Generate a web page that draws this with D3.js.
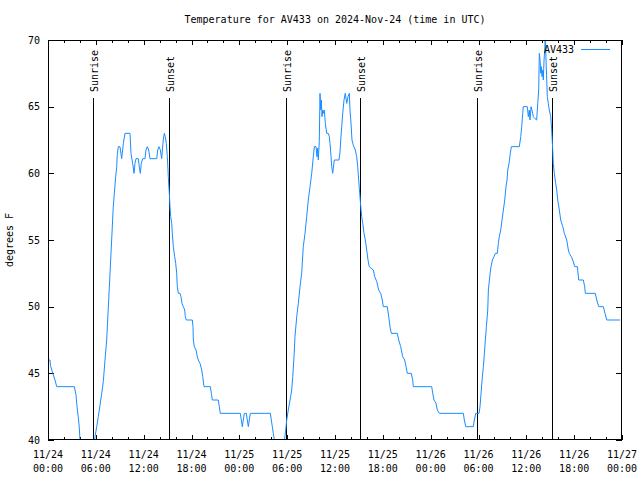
<!DOCTYPE html>
<html><head><meta charset="utf-8">
<script src="https://cdn.jsdelivr.net/npm/d3@7"></script>
<style>
body{margin:0;background:#fff}
svg{display:block}
text{font-family:"DejaVu Sans Mono",monospace;font-size:10px;fill:#000}
</style>
</head><body>
<svg id="c" width="640" height="480"></svg>
<script>
const chartTitle = "Temperature for AV433 on 2024-Nov-24 (time in UTC)";
const yLabel = "degrees F";
const seriesName = "AV433";

// [hours since 2024-11-24 00:00 UTC, temperature °F]
const readingsNov24 = [[0,46],[0.25,46],[0.31,45.6],[0.59,45],[0.88,44.5],[1.09,44],[3.30,44],[3.51,43.4],[3.64,42.5],[3.80,41.7],[3.93,40.9],[4.01,40],[4.14,39],[5.58,39],[5.83,40],[6.11,41],[6.31,41.75],[6.52,42.6],[6.74,43.5],[6.94,44.4],[7.15,46],[7.36,47.5],[7.78,52.5],[8.19,57.5],[8.32,58.5],[8.49,59.75],[8.62,60.5],[8.69,61.4],[8.82,62],[9.03,62],[9.24,61.1],[9.32,61.5],[9.45,62.25],[9.66,63],[10.29,63],[10.41,61.5],[10.62,60.75],[10.79,60],[10.91,60.75],[11.04,61.1],[11.33,61.1],[11.45,60.5],[11.58,60],[11.70,60.75],[11.88,61.1],[12.17,61.1],[12.29,61.75],[12.46,62],[12.63,61.75],[12.79,61.1],[13.64,61.1],[13.76,61.75],[13.92,62],[14.09,61.75],[14.26,61.1],[14.46,62.5],[14.59,63],[14.71,62.75],[14.84,62.25],[14.97,61.25],[15.09,59.75],[15.14,59.2],[15.22,58.5],[15.30,57.5],[15.39,56.75],[15.52,56.25],[15.59,55.5],[15.72,54.5],[15.89,53.75],[16.02,53.25],[16.14,52.5],[16.22,51.5],[16.35,51],[16.56,51],[16.68,50.75],[16.81,50.25],[16.97,50],[17.15,49.75],[17.22,49.25],[17.35,49],[18.10,49],[18.19,48.5],[18.23,47.5],[18.35,47],[18.57,46.75],[18.73,46.25],[18.85,46],[19.07,45.75],[19.28,45.25],[19.41,44.75],[19.57,44],[20.36,44],[20.49,43.5],[20.61,43],[21.36,43],[21.49,42.5],[21.61,42]];
const readingsNov25 = [[24.12,42],[24.25,41.5],[24.37,41],[24.50,41.5],[24.62,42],[24.88,42],[25.00,41.5],[25.13,41],[25.25,41.5],[25.38,42],[27.89,42],[28.01,41.5],[28.14,41],[28.26,40.5],[28.39,40],[28.51,39],[29.54,39],[29.67,40],[29.82,40.75],[29.94,41.5],[30.14,42.25],[30.36,43],[30.57,43.75],[30.70,44.75],[30.86,46.25],[30.98,47.75],[31.20,49.25],[31.40,50.25],[31.61,51.5],[31.82,52.5],[32.02,54.5],[32.24,55.5],[32.45,56.75],[32.65,58],[32.87,59],[33.08,60],[33.28,61.25],[33.41,62],[33.62,62],[33.74,61.25],[33.83,61.9],[33.91,61],[34.03,62.4],[34.12,66],[34.21,64.75],[34.28,65.5],[34.37,64.25],[34.46,64.75],[34.54,64.5],[34.66,64.75],[34.79,63.75],[34.96,63],[35.16,63],[35.29,62.75],[35.37,62.25],[35.46,61.6],[35.59,60.5],[35.71,60],[35.79,60.4],[35.91,61],[36.50,61],[36.63,61.6],[36.72,62.5],[36.84,63.5],[36.97,64.5],[37.13,65.5],[37.29,66],[37.47,65.25],[37.63,65.75],[37.80,66],[37.88,64.75],[38.01,63.75],[38.13,62.5],[38.30,62.1],[38.55,61.75],[38.72,61.25],[38.85,60.5],[38.97,59.5],[39.10,58.5],[39.23,57.5],[39.35,56.75],[39.48,56.25],[39.64,55.5],[39.80,55],[39.98,54.25],[40.14,53.5],[40.30,53],[40.81,52.75],[40.98,52.25],[41.23,51.9],[41.48,51.25],[41.73,51],[41.93,50.5],[42.06,50],[42.56,50],[42.74,49.25],[42.90,48.5],[43.06,48],[43.82,48],[43.99,47.5],[44.24,47],[44.49,46.25],[44.74,46],[44.91,45.5],[45.07,45],[45.57,45],[45.75,44.5],[45.82,44]];
const readingsNov26 = [[48.13,44],[48.26,43.5],[48.42,43],[48.67,42.75],[48.83,42.25],[49.09,42],[52.10,42],[52.22,41.5],[52.40,41],[53.35,41],[53.48,41.5],[53.65,42],[54.07,42],[54.19,42.5],[54.32,43.5],[54.45,44.5],[54.61,45.5],[54.74,46.5],[54.86,47.5],[54.99,48.5],[55.16,49.75],[55.24,51.25],[55.46,52.5],[55.57,53],[55.74,53.5],[55.95,53.75],[56.11,54],[56.36,54],[56.49,54.75],[56.61,55.25],[56.79,55.75],[56.95,56.5],[57.12,57.25],[57.29,58],[57.45,59],[57.58,59.5],[57.67,60.25],[57.83,60.75],[57.99,61.5],[58.12,62],[59.12,62],[59.30,62.75],[59.42,63.5],[59.55,64.5],[59.62,65],[60.12,65],[60.25,64.25],[60.37,64.75],[60.46,64],[60.59,65],[60.71,64.75],[60.88,64.25],[61.09,64.1],[61.30,64],[61.43,65.25],[61.55,66.25],[61.63,69],[61.72,68.5],[61.81,67.5],[61.88,68],[61.97,67.25],[62.06,67.75],[62.13,67],[62.22,68.5],[62.31,69.25],[62.38,70.5],[62.47,68.5],[62.56,67],[62.63,65.75],[62.76,65.25],[62.88,64.75],[63.06,64.25],[63.18,63.25],[63.31,61.75],[63.38,60.75],[63.51,60],[63.68,59.25],[63.81,58.75],[63.94,58],[64.14,57.25],[64.31,56.5],[64.57,56],[64.77,55.5],[65.07,55],[65.27,54.25],[65.39,54],[65.64,53.75],[65.82,53.5],[66.07,53],[66.40,53],[66.57,52],[67.15,52],[67.32,51.5],[67.40,51],[68.65,51],[68.83,50.5],[69.08,50],[69.66,50],[69.87,49.5],[70.08,49],[71.75,49]];

const sunriseHours = [5.68, 29.82, 53.78];
const sunsetHours = [15.22, 39.18, 63.26];

const xTickHours = [0,6,12,18,24,30,36,42,48,54,60,66,72];
const xTickDates = ["11/24","11/24","11/24","11/24","11/25","11/25","11/25","11/25","11/26","11/26","11/26","11/26","11/27"];
const xTickTimes = ["00:00","06:00","12:00","18:00","00:00","06:00","12:00","18:00","00:00","06:00","12:00","18:00","00:00"];
const xMinorHours = d3.range(0, 73, 2).filter(h => h % 6 !== 0);
const yTicks = [40,45,50,55,60,65,70];

const L = 48, R = 622, T = 40, B = 440;
const svg = d3.select("#c");
const x = d3.scaleLinear().domain([0,72]).range([L,R]);
const y = d3.scaleLinear().domain([40,70]).range([B,T]);
const lineColor = "#1a8cff";

svg.append("defs").append("clipPath").attr("id","plot")
  .append("rect").attr("x",L).attr("y",T).attr("width",R-L).attr("height",B-T);

// axes ticks (inward, mirrored)
function styleAxis(g){ g.select(".domain").remove(); g.selectAll("line").attr("stroke","#000").attr("shape-rendering","crispEdges"); }
svg.append("g").attr("transform",`translate(0,${B})`).call(d3.axisBottom(x).tickValues(xTickHours).tickSize(-5).tickFormat("")).call(styleAxis);
svg.append("g").attr("transform",`translate(0,${B})`).call(d3.axisBottom(x).tickValues(xMinorHours).tickSize(-3).tickFormat("")).call(styleAxis);
svg.append("g").attr("transform",`translate(0,${T})`).call(d3.axisTop(x).tickValues(xTickHours).tickSize(-5).tickFormat("")).call(styleAxis);
svg.append("g").attr("transform",`translate(0,${T})`).call(d3.axisTop(x).tickValues(xMinorHours).tickSize(-3).tickFormat("")).call(styleAxis);
svg.append("g").attr("transform",`translate(${L},0)`).call(d3.axisLeft(y).tickValues(yTicks).tickSize(-6).tickFormat("")).call(styleAxis);
svg.append("g").attr("transform",`translate(${R},0)`).call(d3.axisRight(y).tickValues(yTicks).tickSize(-6).tickFormat("")).call(styleAxis);

// tick labels
svg.append("g").selectAll("text").data(yTicks).join("text")
  .attr("x", L-8).attr("y", d => y(d)+3.5).attr("text-anchor","end").text(d => d);
const xl = svg.append("g").selectAll("g").data(xTickHours).join("g");
xl.append("text").attr("x", d => x(d)).attr("y", 458).attr("text-anchor","middle").text((d,i)=>xTickDates[i]);
xl.append("text").attr("x", d => x(d)).attr("y", 472).attr("text-anchor","middle").text((d,i)=>xTickTimes[i]);

// sunrise / sunset markers
const marks = sunriseHours.map(h=>({h,label:"Sunrise"})).concat(sunsetHours.map(h=>({h,label:"Sunset"})));
svg.append("g").selectAll("line").data(marks).join("line")
  .attr("x1", d=>Math.round(x(d.h))+0.5).attr("x2", d=>Math.round(x(d.h))+0.5)
  .attr("y1", T+58).attr("y2", B).attr("stroke","#000").attr("shape-rendering","crispEdges");
svg.append("g").selectAll("text").data(marks).join("text")
  .attr("transform", d=>`translate(${Math.round(x(d.h))+4.5},${T+52}) rotate(-90)`)
  .attr("text-anchor","start").text(d=>d.label);

// data line
const readings = readingsNov24.concat(readingsNov25, readingsNov26);
svg.append("path").datum(readings)
  .attr("clip-path","url(#plot)")
  .attr("fill","none").attr("stroke",lineColor).attr("stroke-width",1)
  .attr("d", d3.line().x(d=>x(d[0])).y(d=>y(d[1])));

// frame
svg.append("rect").attr("x",L+0.5).attr("y",T+0.5).attr("width",R-L-1).attr("height",B-T-1)
  .attr("fill","none").attr("stroke","#000").attr("shape-rendering","crispEdges");

// title, y label
svg.append("text").attr("x",(L+R)/2).attr("y",23).attr("text-anchor","middle").text(chartTitle);
svg.append("text").attr("transform",`translate(13,${(T+B)/2}) rotate(-90)`).attr("text-anchor","middle").text(yLabel);

// legend
svg.append("text").attr("x",574).attr("y",53).attr("text-anchor","end").text(seriesName);
svg.append("line").attr("x1",581).attr("x2",610).attr("y1",49.5).attr("y2",49.5).attr("stroke",lineColor).attr("shape-rendering","crispEdges");
</script>
</body></html>
